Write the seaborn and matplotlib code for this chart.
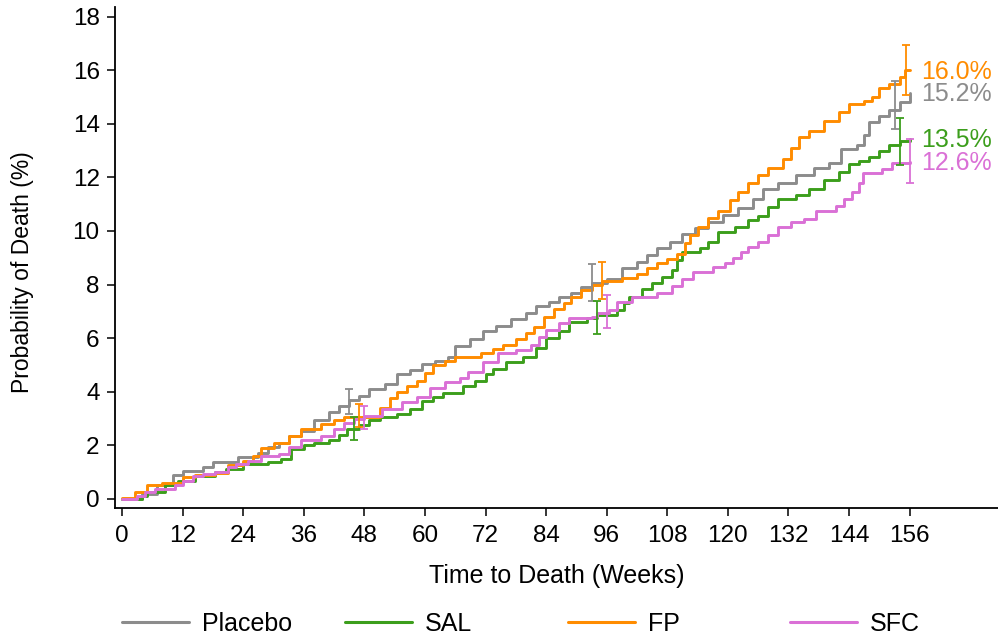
import numpy as np
import pandas as pd
import seaborn as sns
import matplotlib.pyplot as plt
from matplotlib.lines import Line2D

# curvas (semana, % acumulado)
placebo = [(0, 0), (4, 0.2), (7, 0.5), (10, 0.9), (12, 1.05), (16, 1.2), (18, 1.37), (23, 1.55), (27, 1.7),
           (29, 1.95), (31, 2.1), (33, 2.35), (35.5, 2.55), (38, 2.95), (41, 3.25), (43, 3.45), (45, 3.7),
           (47, 3.85), (49, 4.1), (52, 4.3), (54.5, 4.65), (57, 4.8), (59.5, 5.05), (62, 5.15), (64.5, 5.3),
           (66, 5.7), (69, 5.95), (71.5, 6.25), (74, 6.45), (77, 6.7), (80, 6.95), (82, 7.2), (84.5, 7.35),
           (86.5, 7.55), (89, 7.7), (91, 7.9), (93, 8.05), (96, 8.2), (99, 8.6), (102, 8.85), (104, 9.1),
           (106, 9.35), (108.5, 9.6), (111, 9.9), (113.5, 10.1), (116, 10.35), (119, 10.6), (122, 10.85),
           (125, 11.2), (127, 11.55), (130, 11.8), (133.5, 12.1), (137, 12.35), (140, 12.55), (142.5, 13.05),
           (145.5, 13.2), (147, 13.6), (148, 14.05), (150, 14.3), (152, 14.5), (154, 14.8), (156, 15.15)]

sal = [(0, 0), (4, 0.1), (5, 0.25), (8.5, 0.5), (11, 0.67), (14.5, 0.85), (18.5, 1.0), (20.5, 1.1), (24, 1.3),
       (29, 1.37), (31.5, 1.5), (33.5, 1.85), (36, 2.0), (38, 2.1), (41, 2.2), (43, 2.4), (44.5, 2.6),
       (47, 2.75), (49, 2.95), (51, 3.05), (54.5, 3.15), (57, 3.35), (59.5, 3.65), (61.5, 3.8), (63.5, 3.95),
       (67.5, 4.2), (70, 4.4), (72, 4.65), (73.5, 4.85), (76, 5.1), (79.5, 5.3), (82, 5.65), (84, 6.0),
       (86.5, 6.25), (88.5, 6.6), (92, 6.75), (94, 6.85), (98, 7.05), (99.5, 7.3), (100.5, 7.55), (103, 7.85),
       (105, 8.05), (107, 8.3), (109, 8.55), (110, 8.9), (111, 9.2), (114.5, 9.35), (116, 9.6), (118, 9.95),
       (121.5, 10.15), (124, 10.4), (126, 10.55), (128, 10.9), (130, 11.2), (133.5, 11.35), (136, 11.55),
       (139, 11.9), (142, 12.2), (144, 12.5), (146, 12.6), (148, 12.75), (150, 13.0), (152, 13.2),
       (154, 13.35), (156, 13.45)]

fp = [(0, 0.05), (2.5, 0.25), (5, 0.5), (8, 0.6), (12, 0.8), (14.5, 0.88), (18.5, 0.95), (21, 1.25), (24, 1.4),
      (26, 1.6), (27.5, 1.9), (30, 2.1), (33, 2.35), (35.5, 2.6), (39.5, 2.8), (42, 2.95), (44, 3.05), (51, 3.4),
      (53, 3.75), (54.5, 4.0), (56.5, 4.2), (58.5, 4.4), (60, 4.7), (61.5, 5.0), (64, 5.15), (66, 5.3),
      (71, 5.45), (73.5, 5.6), (75.5, 5.75), (78, 5.95), (80, 6.2), (81.5, 6.4), (83.5, 6.8), (85.5, 7.1),
      (87.5, 7.3), (89, 7.55), (91, 7.8), (93, 8.0), (95, 8.15), (99, 8.25), (102, 8.4), (104, 8.6), (106, 8.8),
      (108, 8.95), (110, 9.15), (111.5, 9.55), (112.5, 9.85), (114, 10.15), (116, 10.5), (118, 10.75),
      (120.5, 11.15), (122, 11.45), (124, 11.8), (126, 12.1), (128, 12.35), (131, 12.7), (132.5, 13.1),
      (134, 13.5), (136, 13.75), (139, 14.1), (142, 14.45), (144, 14.75), (147, 14.85), (148.5, 15.0),
      (150, 15.35), (152, 15.5), (154, 15.75), (155, 16.0), (156, 16.0)]

sfc = [(0, 0), (3, 0.1), (4.5, 0.25), (6.5, 0.37), (10.5, 0.5), (12, 0.67), (14, 0.85), (16, 0.93), (18.5, 1.0),
       (21, 1.2), (22.5, 1.3), (25, 1.4), (27.5, 1.6), (31, 1.67), (33, 1.95), (35.5, 2.2), (39.5, 2.35),
       (42, 2.6), (44, 2.85), (46, 3.0), (48, 3.1), (51.5, 3.35), (55.5, 3.6), (58.5, 3.8), (61, 4.15),
       (64, 4.35), (67, 4.5), (68.5, 4.75), (71.5, 5.1), (74.5, 5.45), (78, 5.55), (81, 5.75), (82.5, 6.05),
       (84, 6.3), (86.5, 6.55), (88.5, 6.75), (93, 6.8), (94, 6.95), (96.5, 7.05), (98, 7.35), (101, 7.55),
       (106, 7.7), (109, 7.95), (111, 8.2), (113, 8.45), (117, 8.65), (119.5, 8.8), (121, 9.0), (122.5, 9.2),
       (124, 9.4), (126, 9.6), (128, 9.85), (130, 10.15), (132.5, 10.35), (135, 10.45), (137.5, 10.75),
       (141.5, 10.95), (143, 11.2), (144.5, 11.45), (146, 11.8), (146.7, 12.15), (150.5, 12.3),
       (152.5, 12.55), (156, 12.57)]

# barras de error (semana, limite inferior, limite superior)
placebo_err = [(45, 3.15, 4.1), (93, 7.4, 8.77), (153, 13.8, 15.6)]
sal_err = [(46, 2.2, 3.05), (94, 6.16, 7.4), (154, 12.48, 14.2)]
fp_err = [(47, 2.67, 3.53), (95, 7.47, 8.86), (155.2, 15.08, 16.94)]
sfc_err = [(48, 2.6, 3.45), (96, 6.36, 7.62), (156, 11.78, 13.45)]

groups = ['Placebo', 'SAL', 'FP', 'SFC']
final_labels = ['15.2%', '13.5%', '16.0%', '12.6%']
colors = {'Placebo': '#8c8c8c', 'SAL': '#3c9e1c', 'FP': '#ff8c00', 'SFC': '#da70d6'}

curves = {'Placebo': placebo, 'SAL': sal, 'FP': fp, 'SFC': sfc}
errs = {'Placebo': placebo_err, 'SAL': sal_err, 'FP': fp_err, 'SFC': sfc_err}

rows = []
for g in groups:
    for w, p in curves[g]:
        rows.append({'week': w, 'pct': p, 'group': g})
df = pd.DataFrame(rows)

sns.set_style('ticks')
plt.rcParams['font.family'] = ['Liberation Sans', 'DejaVu Sans']
plt.rcParams['text.color'] = 'black'
plt.rcParams['axes.labelcolor'] = 'black'
plt.rcParams['xtick.color'] = 'black'
plt.rcParams['ytick.color'] = 'black'

fig = plt.figure(figsize=(9.98, 6.41), dpi=100)
ax = fig.add_axes([0.1152, 0.2075, 0.8848, 0.782])

sns.lineplot(data=df, x='week', y='pct', hue='group', palette=colors, estimator=None,
             sort=False, drawstyle='steps-post', linewidth=2.1, legend=False, ax=ax)

for g in groups:
    e = np.array(errs[g])
    mid = (e[:, 1] + e[:, 2]) / 2
    half = (e[:, 2] - e[:, 1]) / 2
    ax.errorbar(e[:, 0], mid, yerr=half, fmt='none', ecolor=colors[g], elinewidth=1.3,
                capsize=2.6, capthick=1.3, zorder=3)

for g, lab in zip(groups, final_labels):
    ax.text(158.2, curves[g][-1][1] - 0.05, lab, color=colors[g], fontsize=18, va='center', ha='left')

ax.set_xlim(-1.4, 173.5)
ax.set_ylim(-0.34, 18.37)
ax.set_xticks(np.arange(0, 157, 12))
ax.set_yticks(np.arange(0, 19, 2))
ax.set_xlabel('Time to Death (Weeks)', fontsize=18)
ax.set_ylabel('Probability of Death (%)', fontsize=16.5)
ax.xaxis.set_label_coords(0.5, -0.112)
ax.yaxis.set_label_coords(-0.092, 0.47)
ax.tick_params(axis='both', labelsize=17.5, length=6, width=1.1, color='black', labelcolor='black')
ax.tick_params(axis='x', pad=6)
ax.tick_params(axis='y', pad=5)
sns.despine(ax=ax)
for s in ['left', 'bottom']:
    ax.spines[s].set_linewidth(1.3)
    ax.spines[s].set_color('black')

# leyenda con columnas igual de anchas
leg_x = [0.1222, 0.3457, 0.5691, 0.7916]
for g, x in zip(groups, leg_x):
    h = Line2D([], [], color=colors[g], linewidth=2.2)
    fig.legend([h], [g], loc='center left', bbox_to_anchor=(x, 0.0265), frameon=False,
               fontsize=18, handlelength=2.68, handletextpad=0.52, borderpad=0, borderaxespad=0)

fig.savefig('out.png', dpi=100)
